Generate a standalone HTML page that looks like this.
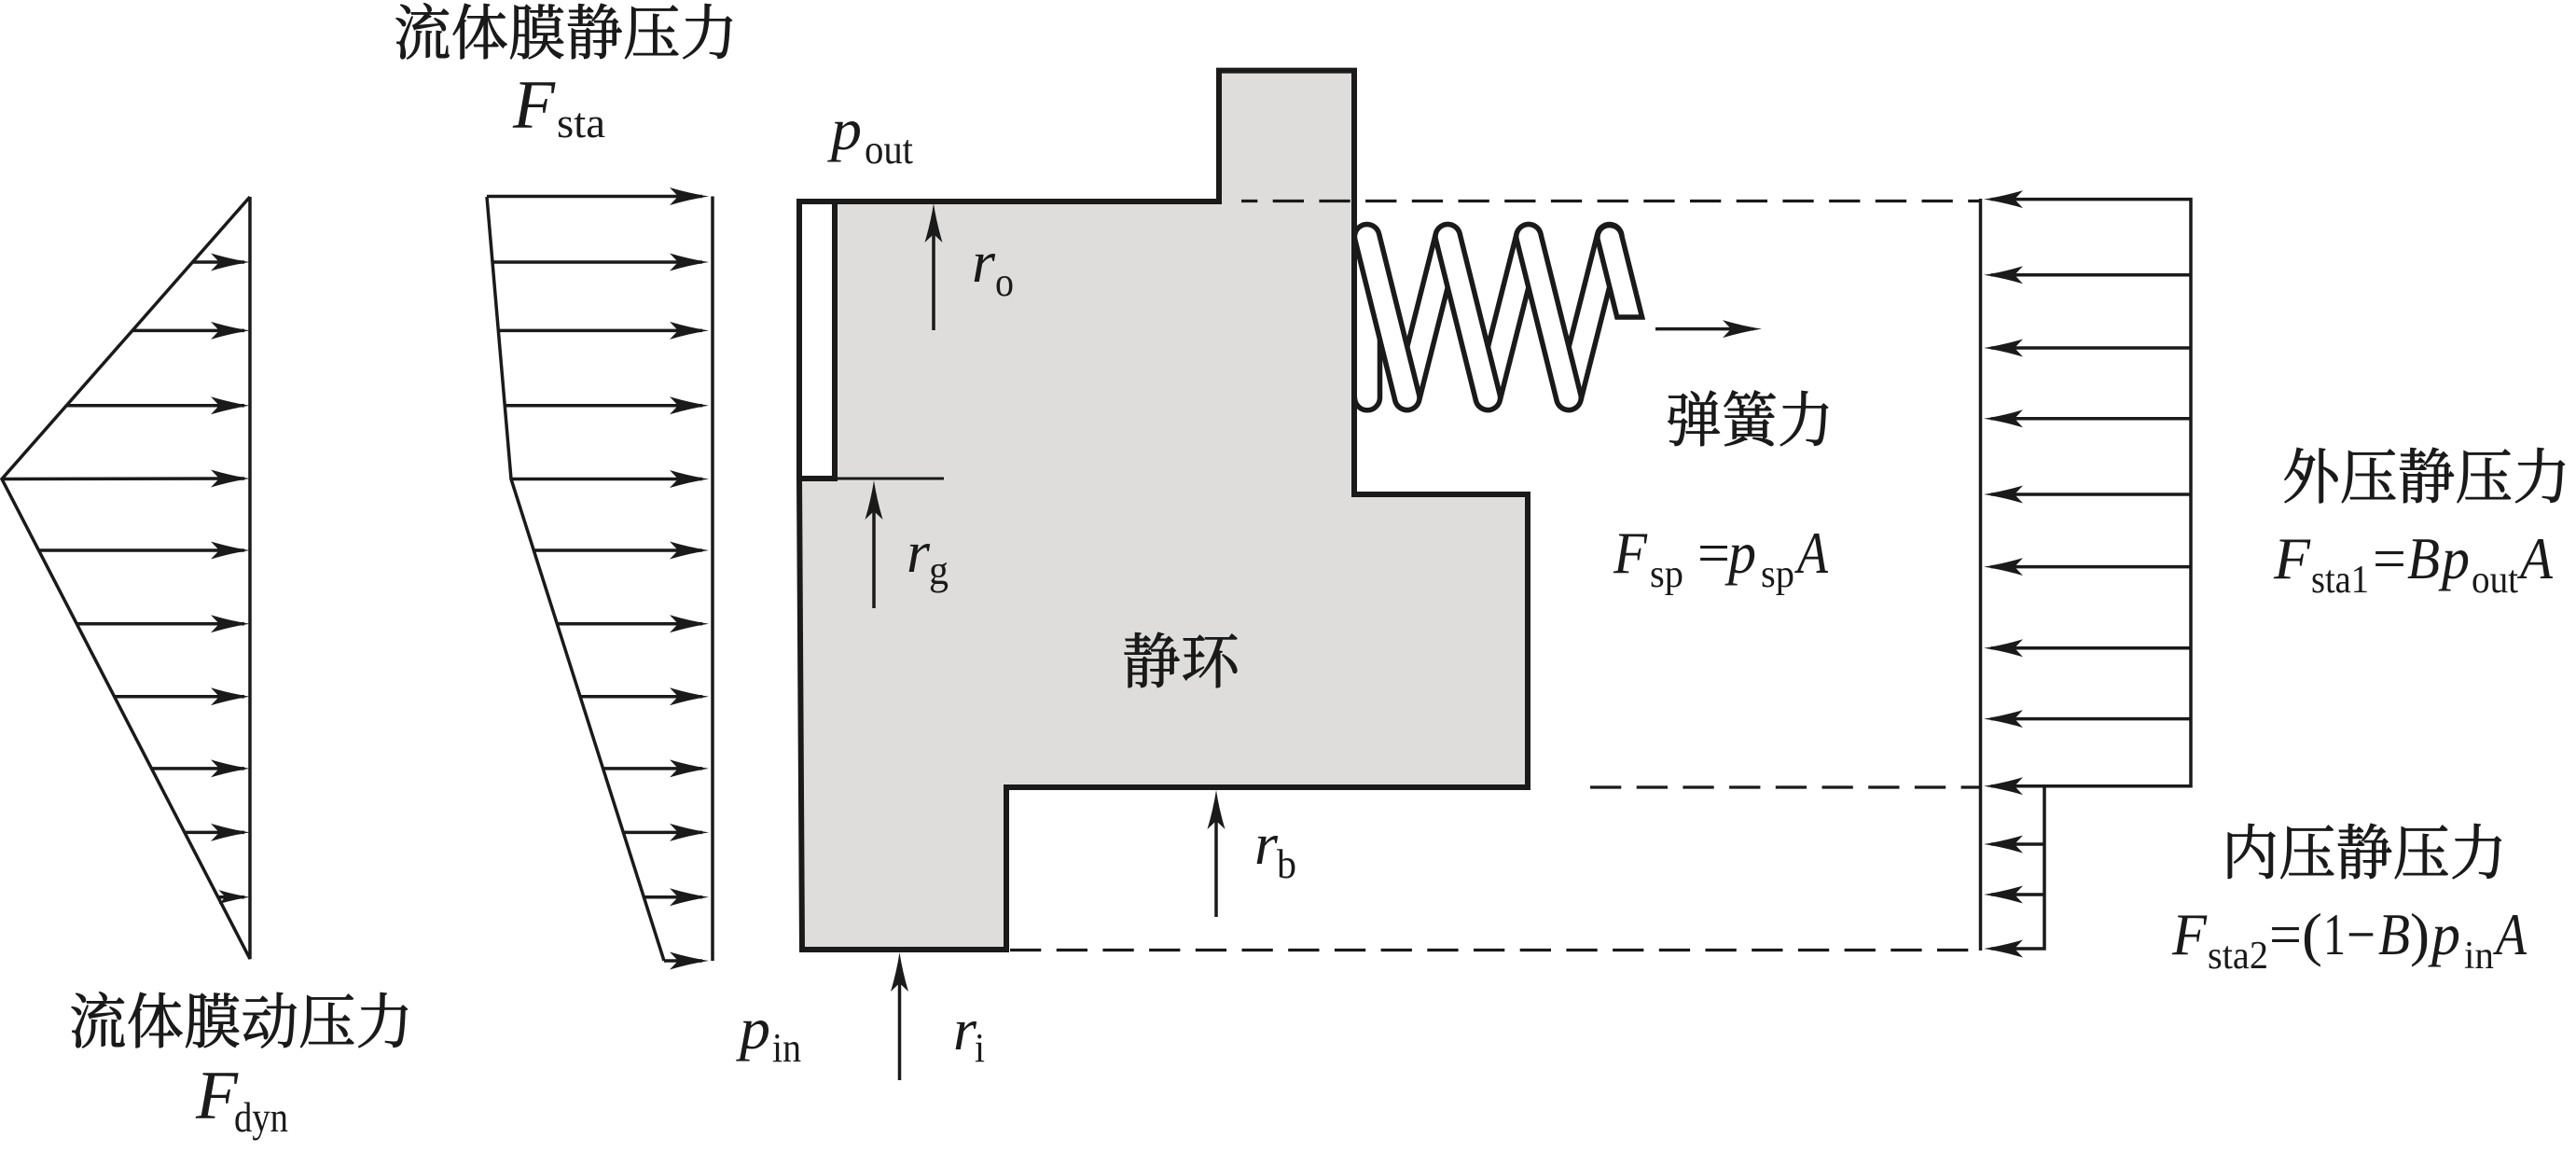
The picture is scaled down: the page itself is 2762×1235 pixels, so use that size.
<!DOCTYPE html>
<html><head><meta charset="utf-8"><style>
html,body{margin:0;padding:0;background:#fff}
svg{display:block}
.c{font-family:"Liberation Serif","Noto Serif CJK SC",serif;font-size:64px;fill:#1a1a1a;stroke:#1a1a1a;stroke-width:.9}
.i{font-family:"Liberation Serif",serif;font-style:italic;font-size:64px;fill:#1a1a1a}
.s{font-family:"Liberation Serif",serif;font-size:44px;fill:#1a1a1a}
.n{font-family:"Liberation Serif",serif;font-size:64px;fill:#1a1a1a}
.l line,.l polyline{stroke:#1a1a1a;stroke-width:3.5;fill:none}
</style></head><body>
<svg width="2762" height="1235" viewBox="0 0 2762 1235" xmlns="http://www.w3.org/2000/svg">
<defs><path id="h" d="M0 0Q-20 -3 -42 -9.5L-33 0L-42 9.5Q-20 3 0 0Z" fill="#1a1a1a"/></defs>
<rect width="2762" height="1235" fill="#fff"/>

<!-- dynamic pressure -->
<g class="l">
<polyline points="268,211 2,513.5 268,1028 268,211"/>
<line x1="206" y1="281" x2="262" y2="281"/><line x1="142" y1="354.4" x2="262" y2="354.4"/><line x1="71" y1="434.8" x2="262" y2="434.8"/><line x1="2" y1="513.5" x2="262" y2="513"/><line x1="42" y1="590" x2="262" y2="590"/><line x1="82" y1="668.7" x2="262" y2="668.7"/><line x1="123" y1="746.7" x2="262" y2="746.7"/><line x1="163" y1="823.9" x2="262" y2="823.9"/><line x1="198" y1="892.4" x2="262" y2="892.4"/><line x1="234" y1="961.7" x2="262" y2="961.7"/>
</g>
<use href="#h" transform="translate(268,281)"/><use href="#h" transform="translate(268,354.4)"/><use href="#h" transform="translate(268,434.8)"/><use href="#h" transform="translate(268,513)"/><use href="#h" transform="translate(268,590)"/><use href="#h" transform="translate(268,668.7)"/><use href="#h" transform="translate(268,746.7)"/><use href="#h" transform="translate(268,823.9)"/><use href="#h" transform="translate(268,892.4)"/><use href="#h" transform="translate(268,961.7) scale(.8)"/>

<!-- static pressure -->
<g class="l">
<polyline points="522,211 548,513.5 712,1030"/>
<line x1="764" y1="210.5" x2="764" y2="1030"/>
<line x1="522" y1="210.5" x2="753" y2="210.5"/><line x1="528" y1="281" x2="753" y2="281"/><line x1="534" y1="354.4" x2="753" y2="354.4"/><line x1="541" y1="434.8" x2="753" y2="434.8"/><line x1="548" y1="513.5" x2="753" y2="513.5"/><line x1="572" y1="590" x2="753" y2="590"/><line x1="597" y1="668.7" x2="753" y2="668.7"/><line x1="622" y1="746.7" x2="753" y2="746.7"/><line x1="646.5" y1="823.9" x2="753" y2="823.9"/><line x1="668" y1="892.4" x2="753" y2="892.4"/><line x1="690" y1="961.7" x2="753" y2="961.7"/><line x1="712" y1="1030" x2="753" y2="1030"/>
</g>
<use href="#h" transform="translate(760,210.5)"/><use href="#h" transform="translate(760,281)"/><use href="#h" transform="translate(760,354.4)"/><use href="#h" transform="translate(760,434.8)"/><use href="#h" transform="translate(760,513.5)"/><use href="#h" transform="translate(760,590)"/><use href="#h" transform="translate(760,668.7)"/><use href="#h" transform="translate(760,746.7)"/><use href="#h" transform="translate(760,823.9)"/><use href="#h" transform="translate(760,892.4)"/><use href="#h" transform="translate(760,961.7)"/><use href="#h" transform="translate(760,1030)"/>

<!-- spring -->
<path d="M1479.5 345V426.3A13.5 13.5 0 0 1 1452.5 426.3" fill="none" stroke="#1a1a1a" stroke-width="5.5"/>
<g fill="none" stroke-linecap="round">
<g stroke="#1a1a1a" stroke-width="32">
<path d="M1508.7 426.3L1552.3 253.7"/><path d="M1595.3 426.3L1639 253.7"/><path d="M1682 426.3L1725.7 253.7"/>
</g>
<g stroke="#fff" stroke-width="21">
<path d="M1508.7 426.3L1552.3 253.7"/><path d="M1595.3 426.3L1639 253.7"/><path d="M1682 426.3L1725.7 253.7"/>
</g>
<path d="M1465.7 253.7L1508.7 426.3" stroke="#1a1a1a" stroke-width="32"/><path d="M1465.7 253.7L1508.7 426.3" stroke="#fff" stroke-width="21"/>
<path d="M1552.3 253.7L1595.3 426.3" stroke="#1a1a1a" stroke-width="32"/><path d="M1552.3 253.7L1595.3 426.3" stroke="#fff" stroke-width="21"/>
<path d="M1639 253.7L1682 426.3" stroke="#1a1a1a" stroke-width="32"/><path d="M1639 253.7L1682 426.3" stroke="#fff" stroke-width="21"/>
</g>
<path d="M1713.1 256.8A13 13 0 0 1 1738.3 250.6L1760.6 340L1733.8 340Z" fill="#fff" stroke="#1a1a1a" stroke-width="5.5"/>
<line x1="1775" y1="352.6" x2="1880" y2="352.6" stroke="#1a1a1a" stroke-width="3.5"/>
<use href="#h" transform="translate(1889,352.6)"/>

<!-- block -->
<polygon points="857,216 1307,216 1307,75.6 1452,75.6 1452,530 1638,530 1638,844 1079,844 1079,1018 860,1018 857,513" fill="#dedddc" stroke="#1a1a1a" stroke-width="6" stroke-linejoin="miter"/>
<rect x="857" y="216" width="38" height="297" fill="#fff" stroke="#1a1a1a" stroke-width="6"/>
<line x1="895" y1="513" x2="1012" y2="513" stroke="#1a1a1a" stroke-width="3"/>

<!-- dashes -->
<g stroke="#1a1a1a" stroke-width="3.2" stroke-dasharray="33.3 16.4" fill="none">
<line x1="1331" y1="215.5" x2="2124" y2="215.5" stroke-dashoffset="16"/>
<line x1="1705" y1="844" x2="2124" y2="844"/>
<line x1="1083" y1="1018.5" x2="2124" y2="1018.5"/>
</g>

<!-- radius arrows -->
<g class="l">
<line x1="1001" y1="354" x2="1001" y2="245"/><line x1="937" y1="652" x2="937" y2="545"/><line x1="1304" y1="983" x2="1304" y2="875"/><line x1="964.5" y1="1158" x2="964.5" y2="1050"/>
</g>
<use href="#h" transform="translate(1001,218) rotate(-90)"/><use href="#h" transform="translate(937,515) rotate(-90)"/><use href="#h" transform="translate(1304,847) rotate(-90)"/><use href="#h" transform="translate(964.5,1021) rotate(-90)"/>

<!-- right loads -->
<g class="l">
<line x1="2123.5" y1="213" x2="2123.5" y2="1019"/>
<polyline points="2135,213.6 2349,213.6 2349,842.7 2135,842.7"/>
<polyline points="2192,842.7 2192,1017 2135,1017"/>
<line x1="2135" y1="294.8" x2="2349" y2="294.8"/><line x1="2135" y1="373" x2="2349" y2="373"/><line x1="2135" y1="448.8" x2="2349" y2="448.8"/><line x1="2135" y1="530" x2="2349" y2="530"/><line x1="2135" y1="607.6" x2="2349" y2="607.6"/><line x1="2135" y1="694.8" x2="2349" y2="694.8"/><line x1="2135" y1="770.6" x2="2349" y2="770.6"/>
<line x1="2135" y1="905" x2="2192" y2="905"/><line x1="2135" y1="959" x2="2192" y2="959"/>
</g>
<use href="#h" transform="translate(2127,213.6) rotate(180)"/><use href="#h" transform="translate(2127,294.8) rotate(180)"/><use href="#h" transform="translate(2127,373) rotate(180)"/><use href="#h" transform="translate(2127,448.8) rotate(180)"/><use href="#h" transform="translate(2127,530) rotate(180)"/><use href="#h" transform="translate(2127,607.6) rotate(180)"/><use href="#h" transform="translate(2127,694.8) rotate(180)"/><use href="#h" transform="translate(2127,770.6) rotate(180)"/><use href="#h" transform="translate(2127,842.7) rotate(180)"/><use href="#h" transform="translate(2127,905) rotate(180)"/><use href="#h" transform="translate(2127,959) rotate(180)"/><use href="#h" transform="translate(2127,1017) rotate(180)"/>

<!-- labels -->
<text class="c" x="422" y="58" textLength="369" lengthAdjust="spacingAndGlyphs">流体膜静压力</text>
<text class="i" style="font-size:74px" x="550" y="137" textLength="45" lengthAdjust="spacingAndGlyphs">F</text>
<text class="s" style="font-size:46px" x="597" y="147" textLength="52" lengthAdjust="spacingAndGlyphs">sta</text>

<text class="c" x="74" y="1118" textLength="369" lengthAdjust="spacingAndGlyphs">流体膜动压力</text>
<text class="i" style="font-size:74px" x="210" y="1199" textLength="45" lengthAdjust="spacingAndGlyphs">F</text>
<text class="s" style="font-size:46px" x="251" y="1213" textLength="58" lengthAdjust="spacingAndGlyphs">dyn</text>

<text class="i" x="891" y="160" textLength="33" lengthAdjust="spacingAndGlyphs">p</text>
<text class="s" x="927" y="175" textLength="52" lengthAdjust="spacingAndGlyphs">out</text>
<text class="i" x="793" y="1124" textLength="33" lengthAdjust="spacingAndGlyphs">p</text>
<text class="s" x="828" y="1138" textLength="31" lengthAdjust="spacingAndGlyphs">in</text>

<text class="i" x="1042" y="302" textLength="25" lengthAdjust="spacingAndGlyphs">r</text>
<text class="s" x="1067" y="317" textLength="20" lengthAdjust="spacingAndGlyphs">o</text>
<text class="i" x="972" y="613" textLength="25" lengthAdjust="spacingAndGlyphs">r</text>
<text class="s" x="996" y="626" textLength="21" lengthAdjust="spacingAndGlyphs">g</text>
<text class="i" x="1345" y="926" textLength="25" lengthAdjust="spacingAndGlyphs">r</text>
<text class="s" x="1369" y="941" textLength="21" lengthAdjust="spacingAndGlyphs">b</text>
<text class="i" x="1022" y="1125" textLength="25" lengthAdjust="spacingAndGlyphs">r</text>
<text class="s" x="1045" y="1138" textLength="11" lengthAdjust="spacingAndGlyphs">i</text>

<text class="c" x="1203" y="732" textLength="126" lengthAdjust="spacingAndGlyphs">静环</text>
<text class="c" x="1786" y="473" textLength="180" lengthAdjust="spacingAndGlyphs">弹簧力</text>

<text class="i" x="1730" y="614" textLength="36" lengthAdjust="spacingAndGlyphs">F</text>
<text class="s" style="font-size:42px" x="1769" y="629" textLength="36" lengthAdjust="spacingAndGlyphs">sp</text>
<text class="n" x="1820" y="614" textLength="35" lengthAdjust="spacingAndGlyphs">=</text>
<text class="i" x="1853" y="614" textLength="30" lengthAdjust="spacingAndGlyphs">p</text>
<text class="s" style="font-size:42px" x="1888" y="629" textLength="36" lengthAdjust="spacingAndGlyphs">sp</text>
<text class="i" x="1927" y="614" textLength="33" lengthAdjust="spacingAndGlyphs">A</text>

<text class="c" x="2447" y="534" textLength="309" lengthAdjust="spacingAndGlyphs">外压静压力</text>
<text class="i" x="2438" y="620" textLength="39" lengthAdjust="spacingAndGlyphs">F</text>
<text class="s" style="font-size:42px" x="2478" y="635" textLength="62" lengthAdjust="spacingAndGlyphs">sta1</text>
<text class="n" x="2544" y="620" textLength="36" lengthAdjust="spacingAndGlyphs">=</text>
<text class="i" x="2581" y="620" textLength="35" lengthAdjust="spacingAndGlyphs">B</text>
<text class="i" x="2618" y="620" textLength="30" lengthAdjust="spacingAndGlyphs">p</text>
<text class="s" style="font-size:42px" x="2650" y="635" textLength="50" lengthAdjust="spacingAndGlyphs">out</text>
<text class="i" x="2702" y="620" textLength="35" lengthAdjust="spacingAndGlyphs">A</text>

<text class="c" x="2382" y="937" textLength="306" lengthAdjust="spacingAndGlyphs">内压静压力</text>
<text class="i" x="2329" y="1023" textLength="37" lengthAdjust="spacingAndGlyphs">F</text>
<text class="s" style="font-size:42px" x="2367" y="1038" textLength="65" lengthAdjust="spacingAndGlyphs">sta2</text>
<text class="n" x="2433" y="1023" textLength="35" lengthAdjust="spacingAndGlyphs">=</text>
<text class="n" x="2468" y="1023" textLength="22" lengthAdjust="spacingAndGlyphs">(</text>
<text class="n" x="2491" y="1023" textLength="24" lengthAdjust="spacingAndGlyphs">1</text>
<text class="n" x="2516" y="1023" textLength="31" lengthAdjust="spacingAndGlyphs">−</text>
<text class="i" x="2550" y="1023" textLength="34" lengthAdjust="spacingAndGlyphs">B</text>
<text class="n" x="2584" y="1023" textLength="21" lengthAdjust="spacingAndGlyphs">)</text>
<text class="i" x="2607" y="1023" textLength="31" lengthAdjust="spacingAndGlyphs">p</text>
<text class="s" style="font-size:42px" x="2642" y="1038" textLength="32" lengthAdjust="spacingAndGlyphs">in</text>
<text class="i" x="2676" y="1023" textLength="33" lengthAdjust="spacingAndGlyphs">A</text>
</svg>
</body></html>
